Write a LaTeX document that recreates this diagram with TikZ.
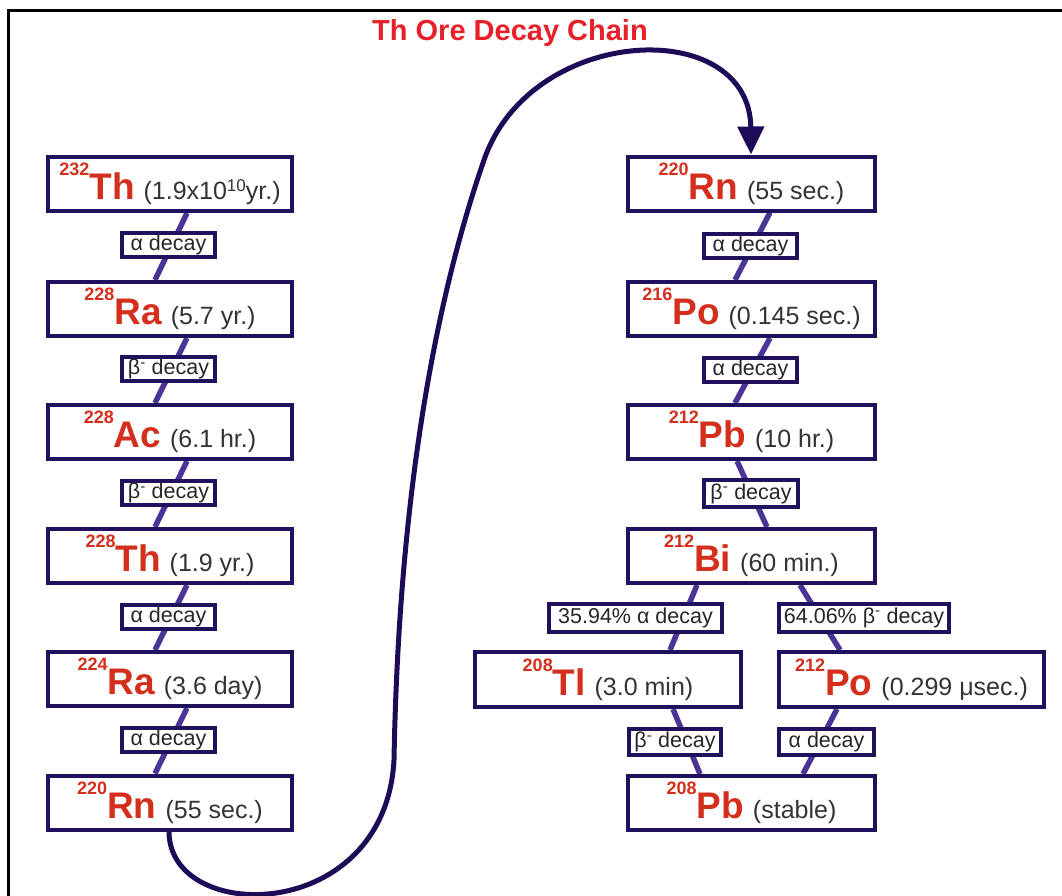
\documentclass[tikz,border=0pt]{standalone}
\usepackage{fontspec}
\setmainfont{Liberation Sans}
\usetikzlibrary{arrows.meta,backgrounds}

\definecolor{boxnavy}{HTML}{20105E}
\definecolor{linkpurple}{HTML}{4A3597}
\definecolor{chainnavy}{HTML}{1E0B58}
\definecolor{elred}{HTML}{D42E1C}
\definecolor{titlered}{HTML}{E8202A}
\definecolor{halfgray}{HTML}{333333}

% nuclide label: mass number, symbol, half-life
\newcommand\nuc[3]{%
  \raisebox{24pt}{\fontsize{18}{18}\selectfont\bfseries\color{elred}#1}%
  {\fontsize{37}{37}\selectfont\bfseries\color{elred}#2}\hspace{9pt}%
  {\fontsize{25}{25}\selectfont\color{halfgray}#3}}
\newcommand\bminus{β\textsuperscript{-}}

\tikzset{
  nucbox/.style={draw=boxnavy, line width=4pt, fill=white,
    minimum width=244pt, minimum height=54pt, inner sep=0pt},
  tagbox/.style={draw=boxnavy, line width=4pt, fill=white,
    minimum width=93pt, minimum height=24pt, inner sep=0pt,
    font=\fontsize{21.5}{21.5}\selectfont, text=black!85},
  link/.style={draw=linkpurple, line width=5.5pt},
  chain/.style={draw=chainnavy, line width=5pt,
    -{Triangle[length=28pt,width=26pt]}},
}

\begin{document}
\begin{tikzpicture}[x=1pt,y=-1pt]
\useasboundingbox (0,0) rectangle (1062,895);
\draw[line width=3pt] (8,900) -- (8,10) -- (1070,10);

\node[font=\fontsize{29}{29}\selectfont\bfseries, text=titlered] (title) at (510,33) {Th Ore Decay Chain};

% left column
\node[nucbox] (th232) at (170,184) {\nuc{232}{Th}{(1.9x10\raisebox{8pt}{\fontsize{17}{17}\selectfont 10}yr.)}};
\node[nucbox] (ra228) at (170,309) {\nuc{228}{Ra}{(5.7 yr.)}};
\node[nucbox] (ac228) at (170,432) {\nuc{228}{Ac}{(6.1 hr.)}};
\node[nucbox] (th228) at (170,556) {\nuc{228}{Th}{(1.9 yr.)}};
\node[nucbox] (ra224) at (170,679) {\nuc{224}{Ra}{(3.6 day)}};
\node[nucbox] (rn220a) at (170,802.5) {\nuc{220}{Rn}{(55 sec.)}};

\node[tagbox] (tA) at (168.5,245) {α decay};
\node[tagbox] (tB) at (168.5,369) {\bminus{} decay};
\node[tagbox] (tC) at (168.5,493) {\bminus{} decay};
\node[tagbox] (tD) at (168.5,617) {α decay};
\node[tagbox] (tE) at (168.5,740) {α decay};

% right column
\node[nucbox, minimum width=247pt] (rn220b) at (751.5,183.5) {\nuc{220}{Rn}{(55 sec.)}};
\node[nucbox, minimum width=247pt] (po216) at (751.5,309) {\nuc{216}{Po}{(0.145 sec.)}};
\node[nucbox, minimum width=247pt] (pb212) at (751.5,432) {\nuc{212}{Pb}{(10 hr.)}};
\node[nucbox, minimum width=247pt] (bi212) at (751.5,556) {\nuc{212}{Bi}{(60 min.)}};
\node[nucbox, minimum width=266pt, minimum height=55pt] (tl208) at (608,679.5) {\nuc{208}{Tl}{(3.0 min)}};
\node[nucbox, minimum width=265pt, minimum height=55pt] (po212) at (911.5,679.5) {\nuc{212}{Po}{(0.299 μsec.)}};
\node[nucbox, minimum width=247pt] (pb208) at (751.5,803) {\nuc{208}{Pb}{(stable)}};

\node[tagbox] (tF) at (750.5,246) {α decay};
\node[tagbox] (tG) at (750.5,370) {α decay};
\node[tagbox, minimum width=94pt, minimum height=27pt] (tH) at (751,493.5) {\bminus{} decay};
\node[tagbox, minimum width=173pt, minimum height=28pt] (tI) at (635.5,617.5) {35.94\% α decay};
\node[tagbox, minimum width=170pt, minimum height=28pt] (tJ) at (864,617.5) {64.06\% \bminus{} decay};
\node[tagbox, minimum width=92pt, minimum height=26pt] (tK) at (675,742) {\bminus{} decay};
\node[tagbox, minimum width=95pt, minimum height=26pt] (tL) at (826.5,742) {α decay};

% page fill and decay links, behind the boxes
\begin{pgfonlayer}{background}
\fill[white] (0,0) rectangle (1062,895);
\draw[link] ([xshift=17pt]th232.south) -- ([xshift=-15pt]ra228.north);
\draw[link] ([xshift=17pt]ra228.south) -- ([xshift=-15pt]ac228.north);
\draw[link] ([xshift=17pt]ac228.south) -- ([xshift=-15pt]th228.north);
\draw[link] ([xshift=17pt]th228.south) -- ([xshift=-15pt]ra224.north);
\draw[link] ([xshift=17pt]ra224.south) -- ([xshift=-15pt]rn220a.north);
\draw[link] ([xshift=18.5pt]rn220b.south) -- ([xshift=-16.5pt]po216.north);
\draw[link] ([xshift=18.5pt]po216.south) -- ([xshift=-16.5pt]pb212.north);
\draw[link] ([xshift=-14.5pt]pb212.south) -- ([xshift=15.5pt]bi212.north);
\draw[link] ([xshift=-54.5pt]bi212.south) -- ([xshift=62pt]tl208.north);
\draw[link] ([xshift=48.5pt]bi212.south) -- ([xshift=-71.5pt]po212.north);
\draw[link] ([xshift=65pt]tl208.south) -- ([xshift=-51.5pt]pb208.north);
\draw[link] ([xshift=-74.5pt]po212.south) -- ([xshift=51.5pt]pb208.north);
\end{pgfonlayer}

% 220Rn continues into the second column
\draw[chain] ([xshift=-1pt]rn220a.south)
  .. controls (169,925) and (385,925) .. (394,760)
  .. controls (398,540) and (425,330) .. (484,160)
  .. controls (531,24) and (750,15) .. ([xshift=-0.5pt]rn220b.north);
\end{tikzpicture}
\end{document}
